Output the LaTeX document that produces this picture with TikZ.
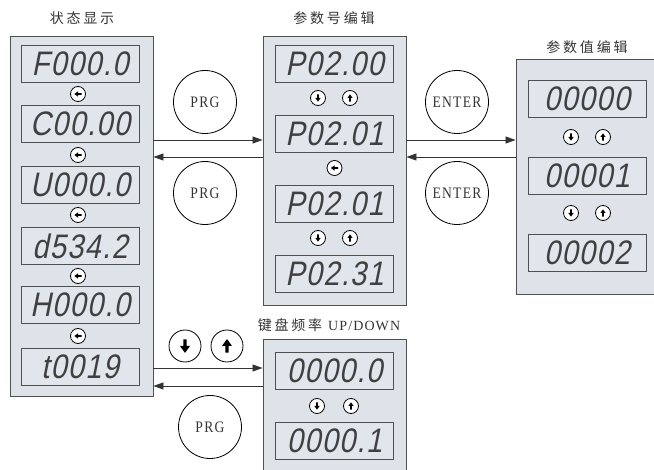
\documentclass[tikz,border=0pt]{standalone}
\usepackage{fontspec}
\setmainfont{Liberation Serif}
\newfontfamily\cjk{Noto Sans CJK SC}
\newfontfamily\segfont[FakeSlant=0.2,FakeStretch=0.85,LetterSpace=4]{Liberation Sans}
\newfontfamily\keyfont[FakeStretch=0.85,LetterSpace=8]{Liberation Serif}
\newfontfamily\lblfont[LetterSpace=8]{Liberation Serif}
\usetikzlibrary{arrows.meta}

\definecolor{panelfill}{RGB}{221,227,233}
\definecolor{dispfill}{RGB}{224,230,235}
\definecolor{edgec}{RGB}{80,80,80}

\newcommand\kglyph[3]{%
  \fill[shift={(#1.center)}, rotate=#2, scale=#3]
    (-3.2,-0.8) -- (0,-0.8) -- (0,-2.4) -- (3.3,0) -- (0,2.4) -- (0,0.8) -- (-3.2,0.8) -- cycle;}

\tikzset{
 panel/.style={draw=edgec, line width=0.9pt, fill=panelfill, minimum width=143pt, inner sep=0pt},
 disp/.style={draw=edgec, line width=0.8pt, fill=dispfill, minimum width=118pt, minimum height=37pt, inner sep=0pt, font=\segfont\fontsize{34}{34}\selectfont, text=black!75},
 keyc/.style={circle, draw=black, line width=0.8pt, fill=white, minimum size=15pt, inner sep=0pt},
 bigkey/.style={keyc, minimum size=32pt},
 opc/.style={circle, draw=black, line width=0.8pt, minimum size=63pt, inner sep=0pt, font=\keyfont\fontsize{16}{16}\selectfont, text=black!80},
 ttl/.style={font=\cjk\fontsize{14}{14}\selectfont\addfontfeature{LetterSpace=20}, text=black!80},
 conn/.style={draw=black!80, line width=0.8pt, -{Triangle[length=10pt,width=7pt]}},
}

\begin{document}
\begin{tikzpicture}[x=1pt, y=-1pt]
\useasboundingbox (0,0) rectangle (654,470);

% panels
\node[panel, minimum height=360pt] (LP) at (81.5,216) {};
\node[panel, minimum height=269pt] (MP) at (334.5,170.5) {};
\node[panel, minimum height=235pt] (RP) at (587.5,176.5) {};
\node[panel, minimum height=151pt] (BP) at (334.5,414.5) {};

% titles
\node[ttl] (tL) at (82,18) {状态显示};
\node[ttl] (tM) at (334,18) {参数号编辑};
\node[ttl] (tR) at (587,47) {参数值编辑};
\node[ttl] (tB) at (329,325) {键盘频率\ {\lblfont\fontsize{14}{14}\selectfont UP/DOWN}};

% left displays
\node[disp] (L1) at (80,63.5) {F000.0};
\node[disp] (L2) at (80,124) {C00.00};
\node[disp] (L3) at (80,185) {U000.0};
\node[disp] (L4) at (80,246) {d534.2};
\node[disp] (L5) at (80,305) {H000.0};
\node[disp] (L6) at (80,366.5) {t0019};
\foreach \i/\y in {1/94,2/155,3/215,4/276,5/336}{
  \node[keyc] (lk\i) at (78,\y) {};
  \kglyph{lk\i}{180}{1.1}
}

% middle displays
\node[disp] (M1) at (334.5,63.5) {P02.00};
\node[disp] (M2) at (334.5,133.5) {P02.01};
\node[disp] (M3) at (334.5,203.5) {P02.01};
\node[disp] (M4) at (334.5,274) {P02.31};
\node[keyc] (md1) at (318,98) {}; \kglyph{md1}{-90}{1.1}
\node[keyc] (mu1) at (350,98) {}; \kglyph{mu1}{90}{1.1}
\node[keyc] (ml) at (334.5,168) {}; \kglyph{ml}{180}{1.1}
\node[keyc] (md2) at (318,238) {}; \kglyph{md2}{-90}{1.1}
\node[keyc] (mu2) at (350,238) {}; \kglyph{mu2}{90}{1.1}

% right displays
\node[disp] (R1) at (587,98.5) {00000};
\node[disp] (R2) at (587,175.5) {00001};
\node[disp] (R3) at (587,253) {00002};
\node[keyc] (rd1) at (571,137) {}; \kglyph{rd1}{-90}{1.1}
\node[keyc] (ru1) at (603,137) {}; \kglyph{ru1}{90}{1.1}
\node[keyc] (rd2) at (571,213) {}; \kglyph{rd2}{-90}{1.1}
\node[keyc] (ru2) at (603,213) {}; \kglyph{ru2}{90}{1.1}

% bottom displays
\node[disp] (B1) at (334.5,371) {0000.0};
\node[disp] (B2) at (334.5,441) {0000.1};
\node[keyc] (bd) at (317,406) {}; \kglyph{bd}{-90}{1.1}
\node[keyc] (bu) at (351,406) {}; \kglyph{bu}{90}{1.1}

% operation circles
\node[opc] (prg1) at (205,102) {PRG};
\node[opc] (prg2) at (205,193) {PRG};
\node[opc] (ent1) at (457,102) {ENTER};
\node[opc] (ent2) at (457,193) {ENTER};
\node[opc] (prg3) at (210,427) {PRG};
\node[bigkey] (kd) at (185,346) {}; \kglyph{kd}{-90}{2.1}
\node[bigkey] (ku) at (227,346) {}; \kglyph{ku}{90}{2.1}

% connectors
\coordinate (ya) at (0,140);
\coordinate (yb) at (0,157);
\coordinate (yc) at (0,368);
\coordinate (yd) at (0,386);
\draw[conn] (LP.east |- ya) -- (MP.west |- ya);
\draw[conn] (MP.west |- yb) -- (LP.east |- yb);
\draw[conn] (MP.east |- ya) -- (RP.west |- ya);
\draw[conn] (RP.west |- yb) -- (MP.east |- yb);
\draw[conn] (LP.east |- yc) -- (BP.west |- yc);
\draw[conn] (BP.west |- yd) -- (LP.east |- yd);
\end{tikzpicture}
\end{document}
